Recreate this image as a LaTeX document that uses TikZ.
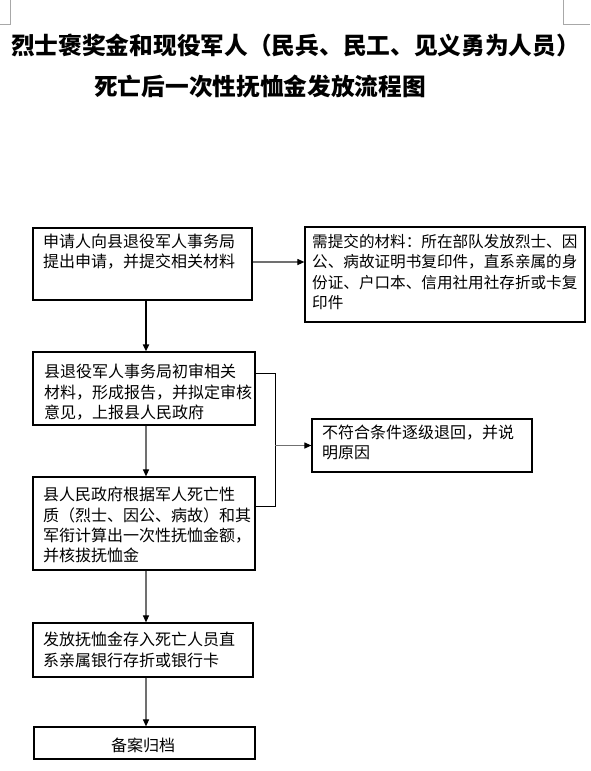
\documentclass[tikz,border=0pt]{standalone}
\usepackage{fontspec}
\newfontfamily\cjk{Noto Sans CJK SC}
\usetikzlibrary{arrows.meta,calc}
\definecolor{lgray}{HTML}{A8A8A8}
\definecolor{mgray}{HTML}{707070}
\tikzset{
  box/.style={draw=black,line width=1.2pt,inner sep=0pt,fill=white},
  txt/.style={inner sep=0pt,anchor=north west,align=left,
    font=\cjk\fontsize{16}{20.3}\selectfont},
  ttl/.style={inner sep=0pt,anchor=west,font=\cjk\bfseries\fontsize{23.7}{28}\selectfont},
  garrow/.style={draw=mgray,line width=1.1pt,-{Triangle[black,length=7pt,width=6pt]}},
  barrow/.style={draw=black,line width=1.8pt,-{Triangle[black,length=7pt,width=6pt]}},
  bline/.style={draw=black,line width=1pt},
  cornermark/.style={draw=lgray,line width=0.8pt}
}
\begin{document}
\begin{tikzpicture}[x=1pt,y=-1pt]
\useasboundingbox (0,0) rectangle (590,771);
% corner marks
\draw[cornermark] (10,0) -- (10,24) -- (0,24);
\draw[cornermark] (563,0) -- (563,24) -- (590,24);
% title
\node[ttl] (t1) at (11,45) {烈士褒奖金和现役军人（民兵、民工、见义勇为人员）};
\node[ttl] (t2) at (94,87) {死亡后一次性抚恤金发放流程图};
% boxes
\node[box,minimum width=219pt,minimum height=72pt] (b1) at (142.5,264) {};
\node[box,minimum width=280pt,minimum height=95pt] (b2) at (445,274.5) {};
\node[box,minimum width=222pt,minimum height=73pt] (b3) at (144,388.5) {};
\node[box,minimum width=222pt,minimum height=93pt] (b4) at (144,523.5) {};
\node[box,minimum width=220pt,minimum height=53pt] (b5) at (422,445.5) {};
\node[box,minimum width=220pt,minimum height=54pt] (b6) at (143,650) {};
\node[box,minimum width=221pt,minimum height=32pt] (b7) at (144.5,743) {};
% texts
\node[txt] (x1) at (43,234) {申请人向县退役军人事务局\\提出申请，并提交相关材料};
\node[txt,font=\cjk\fontsize{15.6}{20.3}\selectfont] (x2) at (312,234) {需提交的材料：所在部队发放烈士、因\\公、病故证明书复印件，直系亲属的身\\份证、户口本、信用社用社存折或卡复\\印件};
\node[txt] (x3) at (44,364) {县退役军人事务局初审相关\\材料，形成报告，并拟定审核\\意见，上报县人民政府};
\node[txt] (x4) at (43,487) {县人民政府根据军人死亡性\\质（烈士、因公、病故）和其\\军衔计算出一次性抚恤金额，\\并核拔抚恤金};
\node[txt] (x5) at (322,425) {不符合条件逐级退回，并说\\明原因};
\node[txt] (x6) at (43,632) {发放抚恤金存入死亡人员直\\系亲属银行存折或银行卡};
\node[txt,anchor=center] (x7) at (143,745) {备案归档};
% connectors
\coordinate (trunk) at (146,0);
\coordinate (bt) at (275,373);
\coordinate (bb) at (275,506);
\coordinate (ra) at (0,262);
\draw[garrow] (b1.east |- ra) -- (b2.west |- ra);
\draw[barrow] (b1.south -| trunk) -- (b3.north -| trunk);
\draw[garrow] (b3.south -| trunk) -- (b4.north -| trunk);
\draw[garrow] (b4.south -| trunk) -- (b6.north -| trunk);
\draw[garrow] (b6.south -| trunk) -- (b7.north -| trunk);
\draw[bline] (b3.east |- bt) -- (bt) -- (bb) -- (b4.east |- bb);
\draw[garrow] (b5.west -| bt) -- (b5.west);
\end{tikzpicture}
\end{document}
